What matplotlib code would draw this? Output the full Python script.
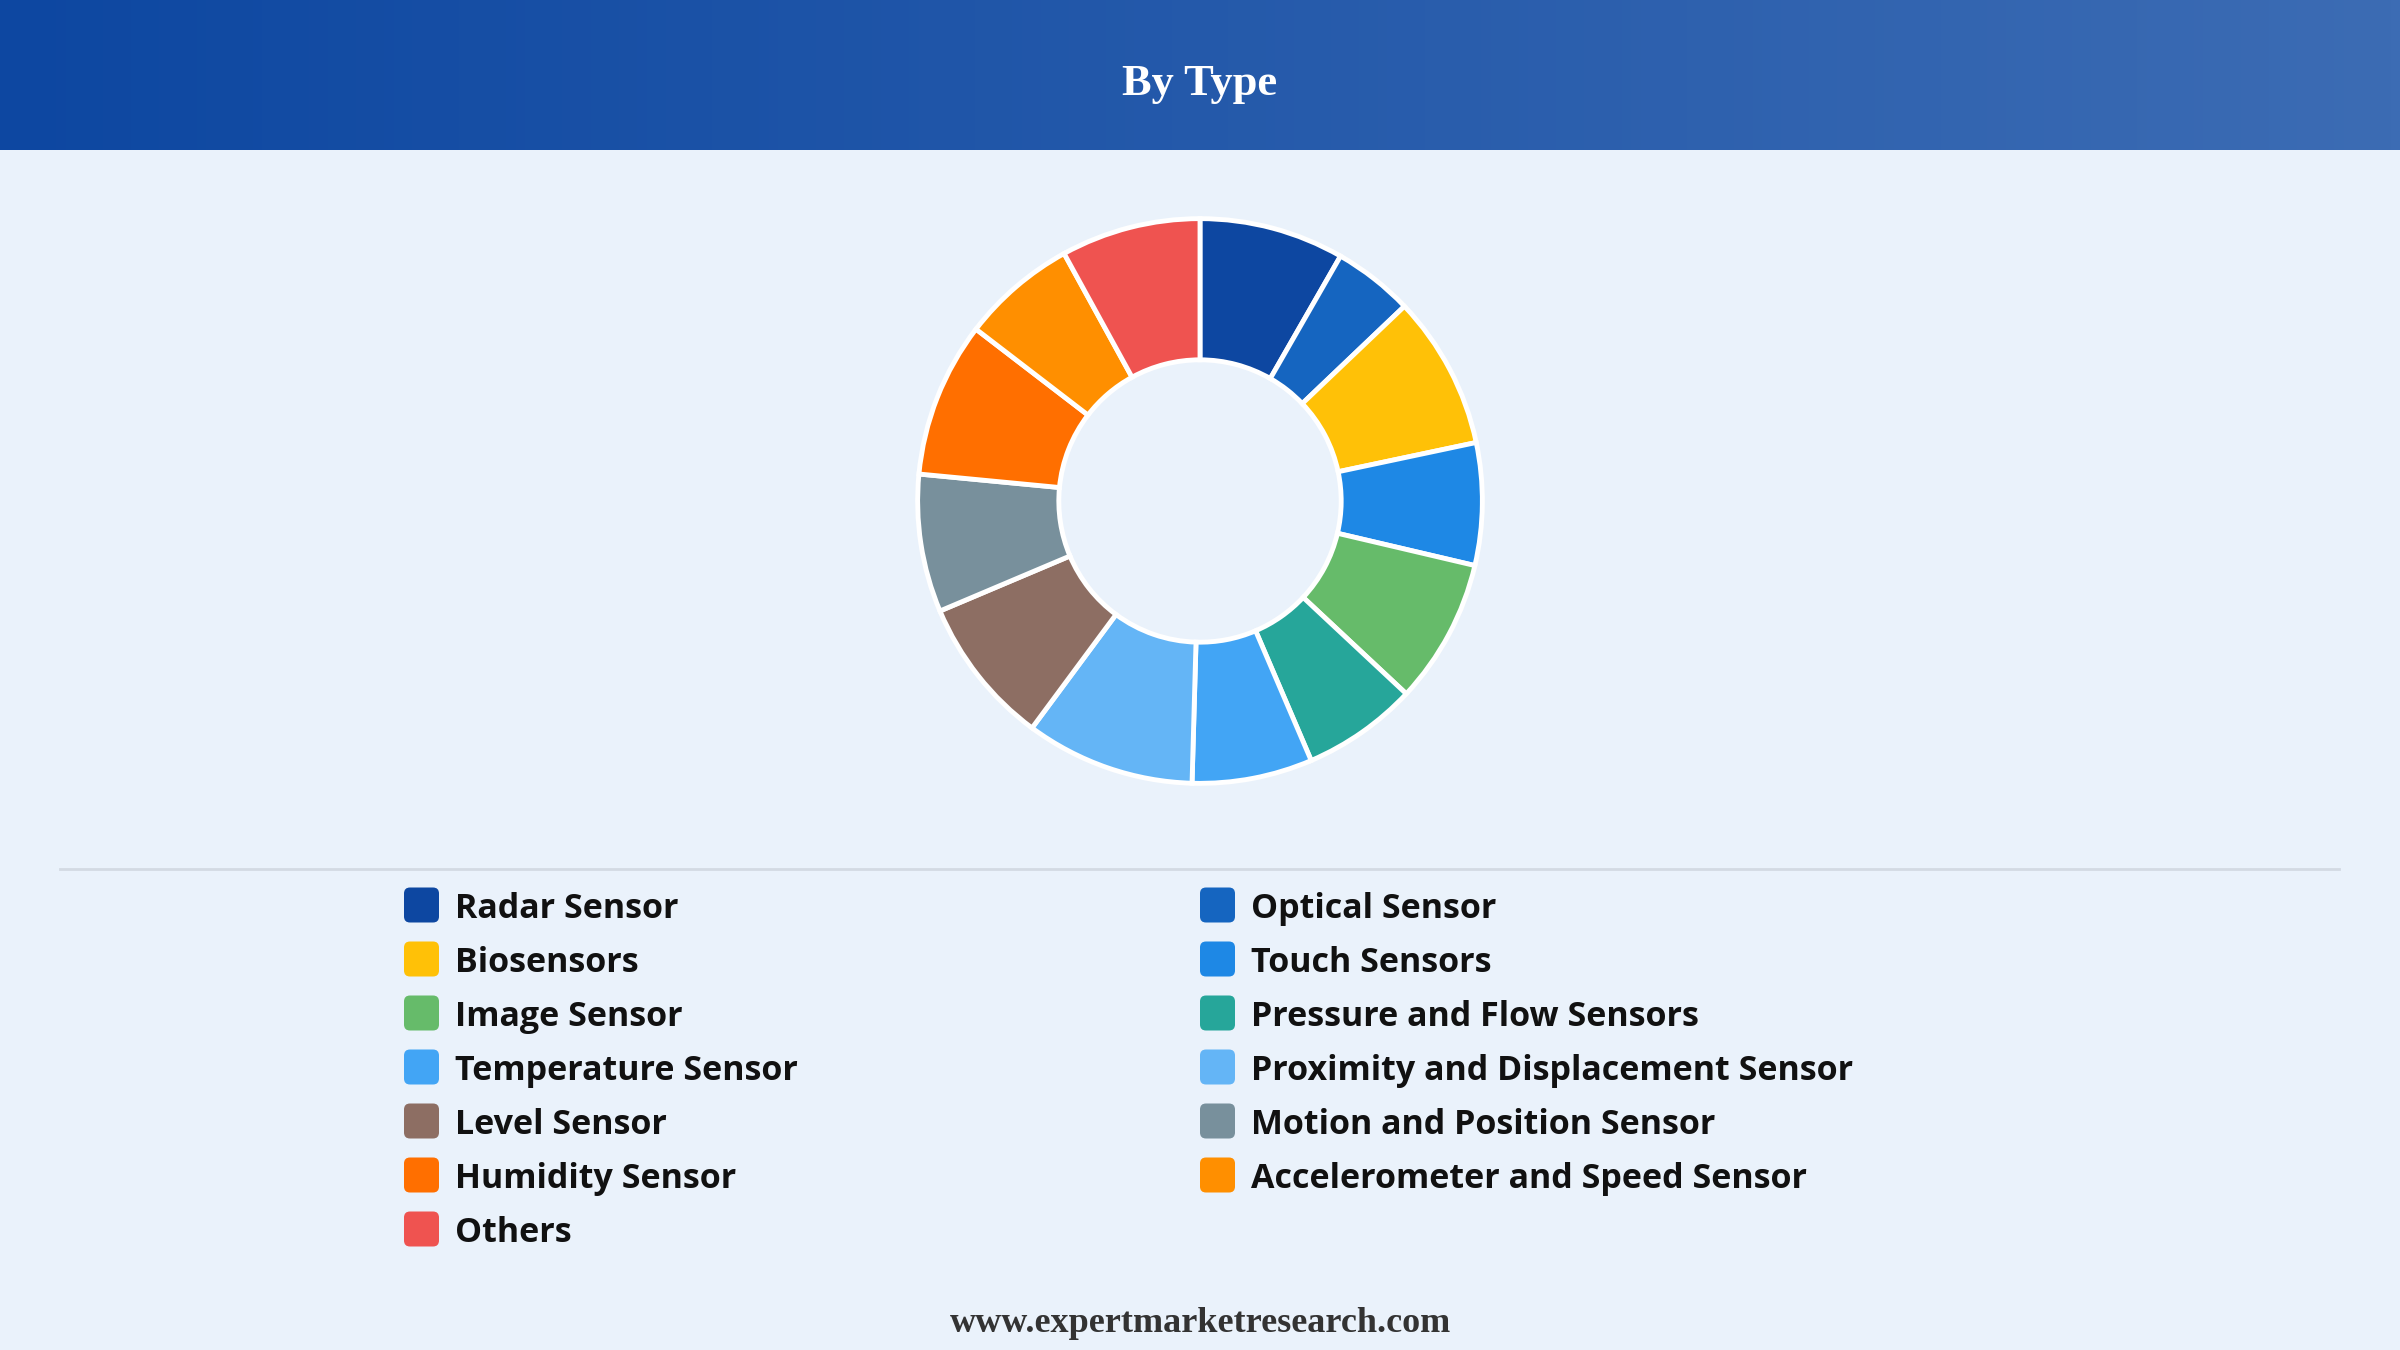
import numpy as np
import matplotlib
matplotlib.use("Agg")
import matplotlib.pyplot as plt
from matplotlib.patches import FancyBboxPatch
from matplotlib.colors import LinearSegmentedColormap

# data (share in %)
categories = ["Radar Sensor", "Optical Sensor", "Biosensors", "Touch Sensors",
              "Image Sensor", "Pressure and Flow Sensors", "Temperature Sensor",
              "Proximity and Displacement Sensor", "Level Sensor",
              "Motion and Position Sensor", "Humidity Sensor",
              "Accelerometer and Speed Sensor", "Others"]
shares = [8.3, 4.6, 8.8, 7.0, 8.3, 6.6, 6.9, 9.7, 8.5, 7.9, 8.9, 6.6, 8.0]
colors = ["#0D47A1", "#1565C0", "#FFC107", "#1E88E5", "#66BB6A", "#26A69A",
          "#42A5F5", "#64B5F6", "#8D6E63", "#78909C", "#FF6F00", "#FF8F00",
          "#EF5350"]

title = "By Type"
footer = "www.expertmarketresearch.com"

W, H = 2400, 1350
BG = "#EAF2FB"

fig = plt.figure(figsize=(W / 100, H / 100), dpi=100, facecolor=BG)

# full-figure pixel axes for header, separator, legend
base = fig.add_axes([0, 0, 1, 1])
base.axis("off")
base.set_facecolor(BG)

# header gradient
grad = np.linspace(0, 1, 256).reshape(1, -1)
cmap = LinearSegmentedColormap.from_list("hdr", ["#0D47A1", "#3C6CB4"])
base.imshow(grad, cmap=cmap, extent=[0, W, 150, 0], aspect="auto", zorder=1)
base.set_xlim(0, W)
base.set_ylim(H, 0)
base.text(W / 2, 84, title, color="white", fontsize=32, fontweight="bold",
          family="Liberation Serif", ha="center", va="center", zorder=2)

# separator
base.plot([60, 2339], [869, 869], color="#D3DAE3", lw=2, zorder=2)

# legend (two columns, row-major)
col_x = [404, 1200]
row_y0, row_step = 905, 54
sq = 35
for i, (name, c) in enumerate(zip(categories, colors)):
    col = i % 2
    row = i // 2
    x = col_x[col]
    y = row_y0 + row * row_step
    base.add_patch(FancyBboxPatch((x, y - sq / 2), sq, sq,
                                  boxstyle="round,pad=0,rounding_size=6",
                                  fc=c, ec="none", zorder=2))
    base.text(x + 51, y + 4, name, fontsize=24.5, fontweight="bold",
              family="Open Sans", color="#111111", ha="left", va="center",
              zorder=2)

base.text(W / 2, 1323, footer, fontsize=26, fontweight="bold",
          family="Liberation Serif", color="#333333", ha="center",
          va="center", zorder=2)

# donut
cx, cy, r = 1200, 501, 288
ax = fig.add_axes([(cx - r) / W, (H - cy - r) / H, 2 * r / W, 2 * r / H])
ax.pie(shares, colors=colors, startangle=90, counterclock=False, radius=1,
       wedgeprops=dict(width=0.5, edgecolor="white", linewidth=3.5))
ax.set_xlim(-1.02, 1.02)
ax.set_ylim(-1.02, 1.02)
ax.set_aspect("equal")
ax.axis("off")

fig.savefig("out.png", dpi=100, facecolor=BG)
